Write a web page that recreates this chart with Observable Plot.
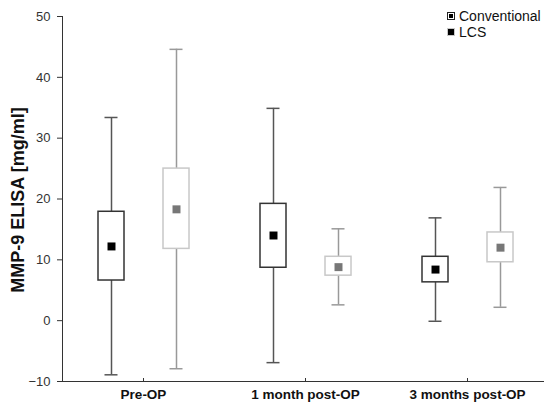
<!DOCTYPE html>
<html>
<head>
<meta charset="utf-8">
<script src="https://cdn.jsdelivr.net/npm/d3@7"></script>
<script src="https://cdn.jsdelivr.net/npm/@observablehq/plot@0.6"></script>
<style>
  body { margin: 0; background: #fff; }
  #wrap { position: relative; width: 544px; height: 404px; font-family: "Liberation Sans", Arial, sans-serif; }
  #ylabel { position: absolute; left: 18px; top: 200px; transform: translate(-50%, -50%) rotate(-90deg); white-space: nowrap; font-weight: bold; font-size: 18px; color: #111; }
  #legend { position: absolute; left: 447px; top: 8px; font-size: 14px; color: #111; }
  .row { display: flex; align-items: center; height: 16px; }
  .icon { width: 6px; height: 6px; margin-right: 4px; box-sizing: content-box; }
</style>
</head>
<body>
<div id="wrap">
  <div id="chart"></div>
  <div id="ylabel">MMP-9 ELISA [mg/ml]</div>
  <div id="legend"></div>
</div>
<script>
const categories = ["Pre-OP", "1 month post-OP", "3 months post-OP"];
const series = ["Conventional", "LCS"];
const yTicks = [-10, 0, 10, 20, 30, 40, 50];

// Conventional
const convMin = [-8.9, -6.9, -0.1];
const convQ1  = [6.6, 8.7, 6.3];
const convMid = [12.2, 14.0, 8.4];
const convQ3  = [17.9, 19.2, 10.5];
const convMax = [33.4, 34.9, 16.9];
// LCS
const lcsMin = [-7.9, 2.6, 2.2];
const lcsQ1  = [11.8, 7.4, 9.6];
const lcsMid = [18.3, 8.8, 12.0];
const lcsQ3  = [25.0, 10.5, 14.5];
const lcsMax = [44.6, 15.1, 21.9];

const styles = {
  Conventional: {box: "#333333", whisker: "#555555", dot: "#000000"},
  LCS: {box: "#c8c8c8", whisker: "#999999", dot: "#777777"}
};

const rows = [];
categories.forEach((c, i) => {
  rows.push({category: c, series: "Conventional", min: convMin[i], q1: convQ1[i], mid: convMid[i], q3: convQ3[i], max: convMax[i]});
  rows.push({category: c, series: "LCS", min: lcsMin[i], q1: lcsQ1[i], mid: lcsMid[i], q3: lcsQ3[i], max: lcsMax[i]});
});

const marks = [];
for (const s of series) {
  const data = rows.filter(d => d.series === s);
  const st = styles[s];
  marks.push(Plot.ruleX(data, {fx: "category", x: "series", y1: "min", y2: "max", stroke: st.whisker, strokeWidth: 1.5}));
  marks.push(Plot.tickY(data, {fx: "category", x: "series", y: "max", stroke: st.whisker, strokeWidth: 1.5, insetLeft: 6.5, insetRight: 6.5}));
  marks.push(Plot.tickY(data, {fx: "category", x: "series", y: "min", stroke: st.whisker, strokeWidth: 1.5, insetLeft: 6.5, insetRight: 6.5}));
  marks.push(Plot.barY(data, {fx: "category", x: "series", y1: "q1", y2: "q3", fill: "white", stroke: st.box, strokeWidth: 1.5}));
  marks.push(Plot.dot(data, {fx: "category", x: "series", y: "mid", symbol: "square", r: 4.5, fill: st.dot, stroke: "none"}));
}

const chart = Plot.plot({
  width: 544,
  height: 404,
  marginTop: 16,
  marginBottom: 23,
  marginLeft: 61,
  marginRight: 0,
  style: {fontFamily: "Liberation Sans, Arial, sans-serif", color: "#222", background: "white"},
  fx: {domain: categories, range: [61.5, 547.5], padding: 0, label: null},
  x: {domain: series, paddingInner: 0.6, paddingOuter: 0.546, axis: null},
  y: {domain: [-10, 50], label: null},
  marks: [
    Plot.frame({anchor: "left", facetAnchor: "left", stroke: "#333"}),
    Plot.frame({anchor: "bottom", stroke: "#333"}),
    Plot.axisY({ticks: yTicks, tickSize: 5, tickPadding: 7, fontSize: 13, label: null, stroke: "#333", fill: "#333"}),
    Plot.axisFx({anchor: "bottom", tickSize: -3, tickPadding: 10.5, fontSize: 13.5, fontWeight: "bold", label: null, fill: "#111", stroke: "#333"}),
    ...marks
  ]
});
document.getElementById("chart").appendChild(chart);

// Legend
const legendItems = [
  {name: "Conventional", border: "#222", gap: true},
  {name: "LCS", border: "#c8c8c8", gap: false}
];
const legend = document.getElementById("legend");
for (const it of legendItems) {
  const row = document.createElement("div");
  row.className = "row";
  const icon = document.createElement("span");
  icon.className = "icon";
  icon.style.background = "#000";
  icon.style.border = "1px solid " + it.border;
  if (it.gap) icon.style.boxShadow = "inset 0 0 0 1px #fff";
  const label = document.createElement("span");
  label.textContent = it.name;
  row.appendChild(icon);
  row.appendChild(label);
  legend.appendChild(row);
}
</script>
</body>
</html>
